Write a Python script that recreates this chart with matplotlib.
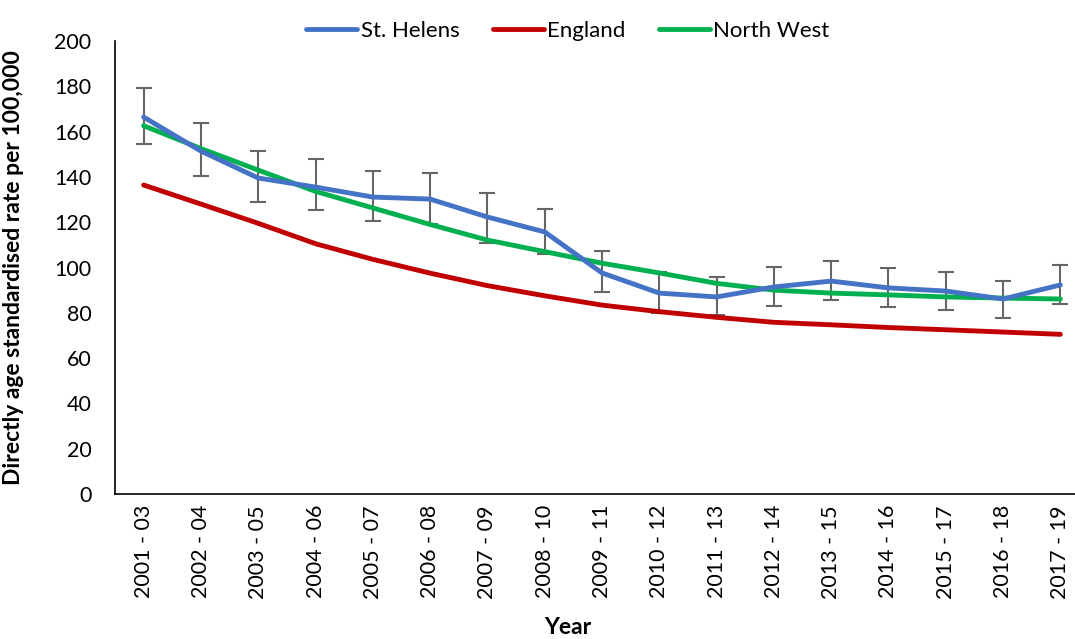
import numpy as np
import matplotlib.pyplot as plt

plt.rcParams['font.family'] = ['Lato', 'DejaVu Sans']

years = ['2001 - 03', '2002 - 04', '2003 - 05', '2004 - 06', '2005 - 07', '2006 - 08',
         '2007 - 09', '2008 - 10', '2009 - 11', '2010 - 12', '2011 - 13', '2012 - 14',
         '2013 - 15', '2014 - 16', '2015 - 17', '2016 - 18', '2017 - 19']

st_helens = [166.4, 151.4, 139.5, 135.5, 131.1, 130.2, 122.3, 115.7, 97.6, 88.7,
             87.0, 91.4, 94.0, 91.0, 89.6, 86.1, 92.3]
st_helens_lower = [154.5, 140.4, 128.9, 125.4, 120.5, 119.2, 111.0, 106.0, 89.2, 80.0,
                   79.0, 83.0, 85.7, 82.6, 81.2, 77.7, 83.9]
st_helens_upper = [179.2, 163.8, 151.4, 147.9, 142.6, 141.7, 133.0, 125.8, 107.3, 98.0,
                   95.8, 100.2, 102.9, 99.8, 98.0, 94.0, 101.1]

england = [136.4, 128.0, 119.5, 110.5, 103.6, 97.5, 92.0, 87.5, 83.4, 80.5,
           78.0, 75.8, 74.7, 73.5, 72.5, 71.5, 70.5]

north_west = [162.6, 152.5, 143.0, 133.6, 126.3, 119.0, 112.1, 107.0, 101.9, 97.6,
              93.0, 90.0, 88.7, 87.9, 87.0, 86.5, 86.1]

x = np.arange(len(years))
sh = np.array(st_helens)
yerr = [sh - np.array(st_helens_lower), np.array(st_helens_upper) - sh]

fig = plt.figure(figsize=(10.75, 6.39), dpi=100)
ax = fig.add_axes([115 / 1075, 1 - 494 / 639, 974 / 1075, 453 / 639])

ax.errorbar(x, sh, yerr=yerr, fmt='none', ecolor='#666666', elinewidth=1.5,
            capsize=6, capthick=1.5, zorder=2)
ax.plot(x, st_helens, color='#4472C4', lw=3.5, label='St. Helens', zorder=4,
        solid_capstyle='round', solid_joinstyle='round')
ax.plot(x, england, color='#C00000', lw=3.5, label='England', zorder=3,
        solid_capstyle='round', solid_joinstyle='round')
ax.plot(x, north_west, color='#00B050', lw=3.5, label='North West', zorder=3,
        solid_capstyle='round', solid_joinstyle='round')

ax.set_xlim(-0.5, len(years) - 0.5)
ax.set_ylim(0, 200)
ax.set_yticks(np.arange(0, 201, 20))
ax.set_xticks(x)
ax.set_xticklabels(years, rotation=90)
ax.tick_params(axis='both', length=0, labelsize=15.5, colors='black')
ax.tick_params(axis='y', pad=17)
ax.tick_params(axis='x', pad=8)

for side in ['top', 'right']:
    ax.spines[side].set_visible(False)
for side in ['left', 'bottom']:
    ax.spines[side].set_color('black')
    ax.spines[side].set_linewidth(1.2)

ax.set_ylabel('Directly age standardised rate per 100,000', fontsize=16.5,
              fontweight='bold')
ax.yaxis.set_label_coords(-0.093, 0.5)
ax.set_xlabel('Year', fontsize=16.5, fontweight='bold')
ax.xaxis.set_label_coords(0.465, -0.272)

ax.legend(loc='center', bbox_to_anchor=(0.465, 1.023), ncol=3, frameon=False,
          fontsize=16, handlelength=2.3, handletextpad=0.15, columnspacing=1.5)

fig.savefig('out.png', dpi=100)
